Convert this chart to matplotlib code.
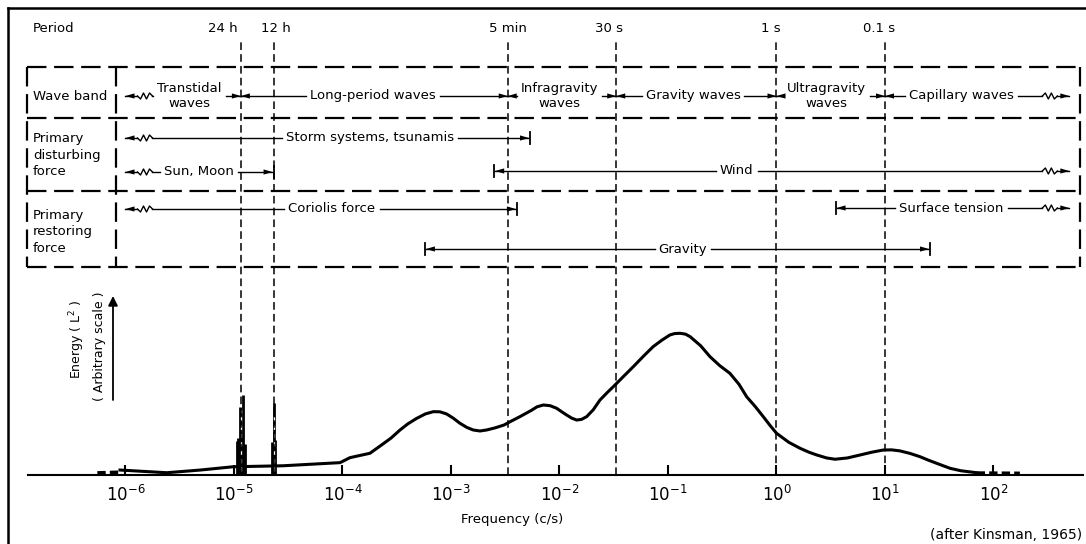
import matplotlib
matplotlib.use('Agg')
import matplotlib.pyplot as plt
from matplotlib.ticker import NullLocator
import numpy as np

plt.rcParams['font.family'] = 'DejaVu Sans'
plt.rcParams['lines.scale_dashes'] = False

# ---- data read off the Kinsman (1965) diagram ----
# energy spectrum, arbitrary units (peak ~ 10)
spec_freq = [8.9e-7, 2.4e-6, 4.9e-6, 9.8e-6, 2.83e-5, 9.5e-5, 1.17e-4, 1.79e-4,
             2.22e-4, 2.8e-4, 3.39e-4, 4.0e-4, 4.83e-4, 5.8e-4, 6.87e-4, 7.9e-4,
             9.1e-4, 1.05e-3, 1.21e-3, 1.40e-3, 1.60e-3, 1.85e-3, 2.13e-3, 2.55e-3,
             3.08e-3, 3.6e-3, 4.32e-3, 5.5e-3, 6.2e-3, 7.1e-3, 8.2e-3, 9.4e-3,
             1.05e-2, 1.16e-2, 1.3e-2, 1.44e-2, 1.6e-2, 1.78e-2, 2.05e-2, 2.36e-2,
             2.75e-2, 3.25e-2, 3.9e-2, 4.79e-2, 6.0e-2, 7.3e-2, 8.8e-2, 0.104,
             0.115, 0.129, 0.145, 0.160, 0.20, 0.244, 0.30, 0.372, 0.45, 0.531,
             0.64, 0.755, 0.87, 1.0, 1.3, 1.65, 2.0, 2.35, 2.9, 3.46, 4.5, 5.9,
             7.5, 9.65, 11.5, 13.7, 17.0, 21.0, 25.0, 30.0, 39.8, 50.0, 70.0]
spec_energy = [0.35, 0.16, 0.35, 0.58, 0.65, 0.87, 1.22, 1.53,
               2.04, 2.6, 3.17, 3.6, 3.99, 4.3, 4.46, 4.45,
               4.30, 4.0, 3.64, 3.35, 3.17, 3.1, 3.17, 3.32,
               3.52, 3.8, 4.11, 4.55, 4.8, 4.93, 4.88, 4.70,
               4.45, 4.23, 4.0, 3.87, 3.92, 4.11, 4.6, 5.28,
               5.8, 6.34, 6.95, 7.63, 8.4, 9.04, 9.5, 9.86,
               9.96, 9.98, 9.92, 9.74, 9.1, 8.33, 7.7, 7.16, 6.4, 5.51,
               4.8, 4.11, 3.5, 2.94, 2.3, 1.88, 1.6, 1.41, 1.2, 1.11, 1.2, 1.41,
               1.6, 1.76, 1.77, 1.7, 1.52, 1.29, 1.05, 0.82, 0.47, 0.3, 0.16]
tail_left_freq = [5.5e-7, 8.9e-7]
tail_left_energy = [0.15, 0.2]
tail_right_freq = [70.0, 175.0]
tail_right_energy = [0.14, 0.12]

# tidal lines (24 h and 12 h)
tide_freq = [1.06e-5, 1.10e-5, 1.14e-5, 1.18e-5, 1.22e-5, 1.26e-5, 2.25e-5, 2.33e-5, 2.40e-5]
tide_energy = [2.4, 2.6, 4.8, 2.9, 5.6, 2.2, 2.3, 5.1, 2.5]

period_labels = ['24 h', '12 h', '5 min', '30 s', '1 s', '0.1 s']
period_freqs = [1 / 86400, 1 / 43200, 1 / 300, 1 / 30, 1.0, 10.0]
freq_ticks = [1e-6, 1e-5, 1e-4, 1e-3, 1e-2, 1e-1, 1e0, 1e1, 1e2]

row_labels = ['Wave band', 'Primary\ndisturbing\nforce', 'Primary\nrestoring\nforce']

band_labels = ['Transtidal\nwaves', 'Long-period waves', 'Infragravity\nwaves',
               'Gravity waves', 'Ultragravity\nwaves', 'Capillary waves']
band_lo = [1e-6, 1 / 86400, 1 / 300, 1 / 30, 1.0, 10.0]
band_hi = [1 / 86400, 1 / 300, 1 / 30, 1.0, 10.0, 5e2]
band_ends = [('zig', 'arrow'), ('arrow', 'arrow'), ('arrow', 'arrow'),
             ('arrow', 'arrow'), ('arrow', 'arrow'), ('arrow', 'zig')]

force_labels = ['Storm systems, tsunamis', 'Sun, Moon', 'Wind',
                'Coriolis force', 'Surface tension', 'Gravity']
force_lo = [1e-6, 1e-6, 2.5e-3, 1e-6, 3.5, 5.75e-4]
force_hi = [5.35e-3, 1 / 43200, 5e2, 4.05e-3, 5e2, 26.0]
force_ends = [('zig', 'bar'), ('zig', 'bar'), ('bar', 'zig'),
              ('zig', 'bar'), ('bar', 'zig'), ('bar', 'bar')]

# ---- layout (pixels from top-left) ----
W, H = 1086, 544
base_y = 475
band_text_f = [3.9e-6, 1.9e-4, 1.0e-2, 0.17, 2.9, 51]
force_text_f = [1.8e-4, 4.8e-6, 0.43, 8.0e-5, 41, 0.137]
force_y = [138, 172, 171, 209, 208, 249]
period_dx = [-18, 2, 0, -7, -6, -6]
fs = 9.5

fig = plt.figure(figsize=(W / 100, H / 100), dpi=100)
fig.patch.set_facecolor('white')
renderer = fig.canvas.get_renderer()

axp = fig.add_axes([0, 0, 1, 1])
axp.set_xlim(0, W)
axp.set_ylim(H, 0)
axp.axis('off')

axs = fig.add_axes([28 / W, (H - base_y) / H, (1083 - 28) / W, (base_y - 42) / H])
axs.patch.set_alpha(0)
axs.set_xscale('log')
axs.set_xlim(10 ** (-6 + (28 - 125.5) / 108.5), 10 ** (-6 + (1083 - 125.5) / 108.5))
axs.set_ylim(0, (base_y - 42) / 14.2)
for s in ['top', 'left', 'right']:
    axs.spines[s].set_visible(False)
axs.spines['bottom'].set_linewidth(1.5)
axs.set_yticks([])
axs.set_xticks(freq_ticks)
axs.xaxis.set_minor_locator(NullLocator())
axs.tick_params(axis='x', direction='in', length=7, width=1.5, labelsize=12, pad=7)

# spectrum
axs.plot(spec_freq, spec_energy, color='k', lw=2.2, solid_joinstyle='round')
axs.plot(tail_left_freq, tail_left_energy, color='k', lw=2.5, linestyle=(0, (6, 3)))
axs.plot(tail_right_freq, tail_right_energy, color='k', lw=2.5, linestyle=(0, (6, 3)))
axs.vlines(tide_freq, 0, tide_energy, colors='k', lw=2)
axs.vlines(period_freqs[:2], 0.3, [4.6, 4.3], colors='white', lw=0.9,
           linestyles=[(0, (3, 3))])

for f in period_freqs:
    axs.axvline(f, 0, 1, color='k', lw=1.1, linestyle=(0, (5.5, 3)))


def fx(f):
    return axs.transData.transform((f, 1))[0]


# outer frame
axp.plot([8, W], [8, 8], color='k', lw=1.8)
axp.plot([8, 8], [8, H], color='k', lw=1.8)

# dashed table
dash = (0, (14, 5.5))
for y in [67, 118, 191, 267]:
    axp.plot([27, 1080], [y, y], color='k', lw=1.6, linestyle=dash)
for x in [27, 116, 1080]:
    axp.plot([x, x], [67, 267], color='k', lw=1.6, linestyle=dash)

axp.text(33, 29, 'Period', va='center', fontsize=fs)
for lab, f, dx in zip(period_labels, period_freqs, period_dx):
    axp.text(fx(f) + dx, 29, lab, ha='center', va='center', fontsize=fs)

for lab, y in zip(row_labels, [96, 155, 232]):
    axp.text(33, y, lab, va='center', fontsize=fs, linespacing=1.35)


def head(x, y, d):
    axp.fill([x, x - d * 9, x - d * 9], [y, y - 2.6, y + 2.6], color='k', lw=0)


def zig(x0, y, d):
    xs = x0 + d * np.array([0, 3, 6, 9, 12, 15])
    ys = y + np.array([0, 3, -3, 3, -3, 0])
    axp.plot(xs, ys, color='k', lw=1)


def end(kind, x, y, d):
    # d = -1 for left end, +1 for right end; returns inner x where the line starts
    if kind == 'arrow':
        head(x, y, d)
        return x
    if kind == 'bar':
        axp.plot([x, x], [y - 6, y + 6], color='k', lw=1.3)
        head(x - d, y, d)
        return x - d
    head(x, y, d)
    axp.plot([x, x - d * 12], [y, y], color='k', lw=1)
    zig(x - d * 12, y, -d)
    return x - d * 27


def draw_range(lo, hi, kinds, label, ftext, y):
    t = axp.text(fx(ftext), y, label, ha='center', va='center',
                 fontsize=fs, linespacing=1.2)
    bb = t.get_window_extent(renderer)
    xl = end(kinds[0], fx(lo), y, -1)
    xr = end(kinds[1], fx(hi), y, 1)
    if bb.x0 - 4 > xl:
        axp.plot([xl, bb.x0 - 4], [y, y], color='k', lw=1)
    if xr > bb.x1 + 4:
        axp.plot([bb.x1 + 4, xr], [y, y], color='k', lw=1)


for lab, lo, hi, k, ft in zip(band_labels, band_lo, band_hi, band_ends, band_text_f):
    draw_range(lo, hi, k, lab, ft, 96)
for lab, lo, hi, k, ft, y in zip(force_labels, force_lo, force_hi, force_ends,
                                 force_text_f, force_y):
    draw_range(lo, hi, k, lab, ft, y)

# energy axis label
axp.text(77, 339, 'Energy ( L$^2$ )', rotation=90, ha='center', va='center', fontsize=9)
axp.text(100, 346, '( Arbitrary scale )', rotation=90, ha='center', va='center', fontsize=9)
axp.annotate('', xy=(113, 296), xytext=(113, 400),
             arrowprops=dict(arrowstyle='-|>', color='k', lw=1.3, mutation_scale=14,
                             shrinkA=0, shrinkB=0))

axp.text(512, 520, 'Frequency (c/s)', ha='center', va='center', fontsize=9.5)
axp.text(1082, 535, '(after Kinsman, 1965)', ha='right', va='center', fontsize=10)

fig.savefig('out.png', dpi=100, facecolor='white')
